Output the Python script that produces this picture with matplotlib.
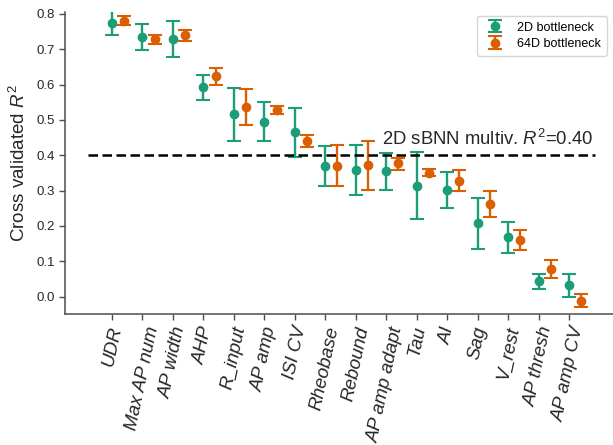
import numpy as np
import matplotlib
matplotlib.use("Agg")
import matplotlib.pyplot as plt

plt.rcParams["font.family"] = ["Liberation Sans", "DejaVu Sans"]
plt.rcParams["mathtext.fontset"] = "custom"
plt.rcParams["mathtext.rm"] = "Liberation Sans"
plt.rcParams["mathtext.it"] = "Liberation Sans:italic"

GREEN = "#1b9e77"
ORANGE = "#d95f02"
SPINE = "#4d4d4d"
TEXT = "#262626"

features = ["UDR", "Max AP num", "AP width", "AHP", "R_input", "AP amp", "ISI CV",
            "Rheobase", "Rebound", "AP amp adapt", "Tau", "AI", "Sag", "V_rest",
            "AP thresh", "AP amp CV"]

# cross-validated R^2 with lower / upper bounds of the spread
r2_2d = [0.775, 0.736, 0.729, 0.593, 0.516, 0.495, 0.465, 0.371, 0.359, 0.355,
         0.313, 0.302, 0.207, 0.168, 0.044, 0.033]
lo_2d = [0.741, 0.698, 0.677, 0.557, 0.440, 0.441, 0.394, 0.312, 0.289, 0.302,
         0.219, 0.251, 0.134, 0.123, 0.023, 0.000]
hi_2d = [0.809, 0.772, 0.781, 0.628, 0.591, 0.550, 0.534, 0.426, 0.429, 0.407,
         0.409, 0.354, 0.280, 0.211, 0.063, 0.063]

r2_64d = [0.781, 0.728, 0.740, 0.624, 0.538, 0.528, 0.440, 0.371, 0.372, 0.377,
          0.351, 0.328, 0.262, 0.160, 0.079, -0.011]
lo_64d = [0.770, 0.715, 0.723, 0.598, 0.487, 0.517, 0.424, 0.313, 0.303, 0.359,
          0.342, 0.299, 0.225, 0.131, 0.054, -0.029]
hi_64d = [0.794, 0.741, 0.755, 0.648, 0.588, 0.540, 0.456, 0.428, 0.441, 0.393,
          0.361, 0.358, 0.299, 0.189, 0.104, 0.007]

multiv_r2 = 0.40

fig = plt.figure(figsize=(6.13, 4.45), dpi=100)
ax = fig.add_axes([0.106, 0.2937, 0.894, 0.679])

x = np.arange(len(features))
for xs, m, lo, hi, col, lab in [
    (x, r2_2d, lo_2d, hi_2d, GREEN, "2D bottleneck"),
    (x + 0.4, r2_64d, lo_64d, hi_64d, ORANGE, "64D bottleneck"),
]:
    m = np.array(m)
    yerr = np.vstack([m - np.array(lo), np.array(hi) - m])
    ax.errorbar(xs, m, yerr=yerr, fmt="o", color=col, ecolor=col,
                markersize=6, elinewidth=1.7, capsize=5, capthick=1.5,
                label=lab)

ax.hlines(multiv_r2, -0.8, 15.85, colors="k", linestyles=(0, (3.8, 1.8)),
          linewidth=1.8)
ax.text(8.86, multiv_r2 + 0.03, f"2D sBNN multiv. $R^2$={multiv_r2:.2f}",
        fontsize=13.3, color=TEXT, va="baseline", ha="left")

ax.set_xlim(-1.54, 16.44)
ax.set_ylim(-0.05, 0.805)
ax.set_xticks(x)
ax.set_xticklabels(features, rotation=78, ha="center", fontstyle="italic",
                   fontsize=13.5, color=TEXT)
ax.set_yticks(np.arange(0, 0.81, 0.1))
ax.set_yticklabels([f"{v:.1f}" for v in np.arange(0, 0.81, 0.1)],
                   fontsize=9.5, color=TEXT)
ax.set_ylabel("Cross validated $R^2$", fontsize=13.5, color=TEXT, labelpad=5)

for side in ["top", "right"]:
    ax.spines[side].set_visible(False)
for side in ["left", "bottom"]:
    ax.spines[side].set_color(SPINE)
    ax.spines[side].set_linewidth(1.1)
ax.tick_params(colors=SPINE, length=4, width=1, labelcolor=TEXT)

ax.legend(loc="upper right", bbox_to_anchor=(1.0, 1.008), fontsize=9,
          frameon=True, edgecolor="#cccccc", borderpad=0.45,
          labelspacing=0.35)

fig.savefig("out.png", dpi=100)
